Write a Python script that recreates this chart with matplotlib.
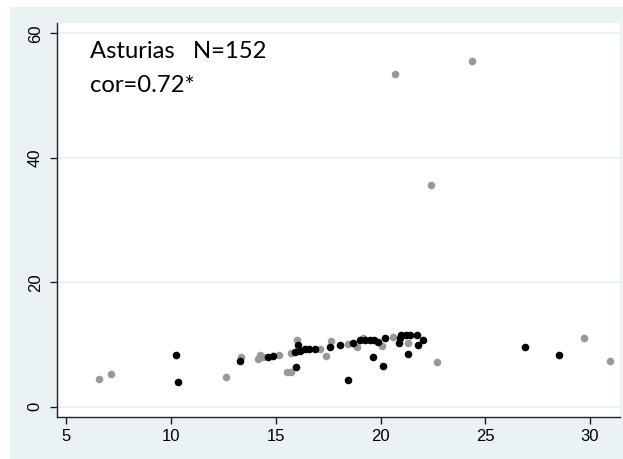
import matplotlib
matplotlib.use("Agg")
import matplotlib.pyplot as plt
from matplotlib.patches import Rectangle

# Group 1 (grey markers)
grey_x = [6.55, 7.12, 12.64, 13.35, 14.13, 14.25, 14.40, 15.14, 15.55, 15.75,
          15.74, 16.00, 17.10, 17.40, 17.62, 18.46, 18.89, 19.18, 20.08, 20.58,
          21.32, 20.70, 22.41, 24.35, 22.71, 29.70, 30.95]
grey_y = [4.40, 5.25, 4.77, 7.94, 7.71, 8.36, 8.03, 8.26, 5.60, 5.60,
          8.58, 10.75, 9.30, 8.20, 10.50, 10.10, 9.64, 11.00, 9.70, 11.20,
          10.30, 53.40, 35.60, 55.60, 7.23, 11.00, 7.39]

# Group 2 (black markers)
black_x = [10.25, 10.33, 13.28, 14.64, 14.88, 15.96, 15.94, 16.17, 16.07, 16.39,
           16.60, 16.85, 17.60, 18.06, 18.43, 18.70, 19.00, 19.25, 19.50, 19.70,
           19.64, 19.90, 20.10, 20.22, 20.88, 20.95, 21.00, 21.20, 21.40, 21.30,
           21.72, 21.80, 22.04, 26.88, 28.53]
black_y = [8.30, 4.00, 7.34, 8.03, 8.15, 6.43, 8.84, 8.90, 9.85, 9.27,
           9.27, 9.27, 9.55, 9.90, 4.26, 10.30, 10.72, 10.72, 10.80, 10.72,
           7.94, 10.40, 6.60, 11.05, 10.30, 11.00, 11.50, 11.60, 11.50, 8.42,
           11.55, 9.90, 10.80, 9.64, 8.36]

x_ticks = [5, 10, 15, 20, 25, 30]
y_ticks = [0, 20, 40, 60]
title_line = "Asturias   N=152"
cor_line = "cor=0.72*"

BG = "#EAF2F3"
W, H = 623, 459

fig = plt.figure(figsize=(W / 100, H / 100), dpi=100, facecolor="white")
fig.patches.append(Rectangle((9.5 / W, 0), 1 - 9.5 / W, 1 - 7 / H,
                             transform=fig.transFigure, facecolor=BG,
                             edgecolor="none", zorder=-5))

ax = fig.add_axes([56.6 / W, 1 - 416.7 / H, (620 - 56.6) / W, (416.7 - 23) / H])
ax.set_zorder(2)
ax.set_facecolor("white")
ax.set_xlim(4.54, 31.43)
ax.set_ylim(-1.6, 61.65)

for yt in y_ticks:
    ax.axhline(yt, color=BG, lw=1.4, zorder=1)

ax.scatter(grey_x, grey_y, s=30, color="#999999", linewidths=0, zorder=3)
ax.scatter(black_x, black_y, s=30, color="#000000", linewidths=0, zorder=4)

for side in ("top", "right"):
    ax.spines[side].set_visible(False)
for side in ("left", "bottom"):
    ax.spines[side].set_color("#222222")
    ax.spines[side].set_linewidth(1.0)

ax.set_xticks(x_ticks)
ax.set_yticks(y_ticks)
ax.tick_params(axis="both", direction="out", length=5, width=1, color="#222222",
               labelsize=12, pad=4)
ax.tick_params(axis="y", labelrotation=90, pad=5)
for lab in ax.get_yticklabels():
    lab.set_verticalalignment("center")
for lab in ax.get_xticklabels() + ax.get_yticklabels():
    lab.set_fontfamily("Liberation Sans")

fig.text(90 / W, 1 - 58.3 / H, title_line, fontsize=17.2, family="Lato",
         va="baseline", ha="left", zorder=5)
fig.text(90 / W, 1 - 92 / H, cor_line, fontsize=17.2, family="Lato",
         va="baseline", ha="left", zorder=5)

fig.savefig("out.png", dpi=100, facecolor="white")
